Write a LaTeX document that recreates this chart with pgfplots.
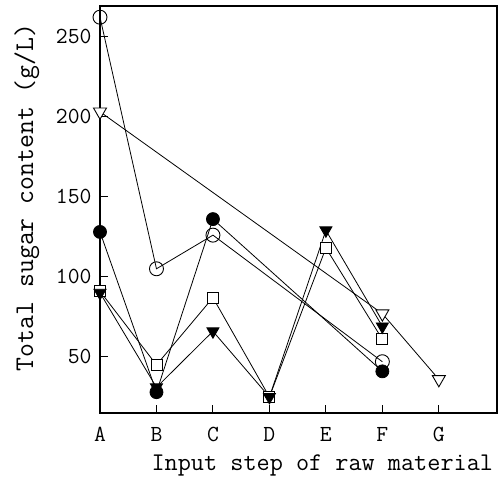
\documentclass[border=0pt]{standalone}
\usepackage{fontspec}
\usepackage{pgfplots}
\pgfplotsset{compat=1.18}
\newcommand{\tl}{\ttfamily\fontsize{23}{27}\selectfont}

\begin{document}
\begin{tikzpicture}
\begin{axis}[
    scale only axis,
    width=397pt, height=407pt,
    xmin=0, xmax=7.03,
    ymin=15, ymax=269,
    xtick={0,1,2,3,4,5,6},
    xticklabels={{\tl A},{\tl B},{\tl C},{\tl D},{\tl E},{\tl F},{\tl G}},
    ytick={50,100,150,200,250},
    yticklabel={\tl\pgfmathprintnumber{\tick}},
    xtick pos=bottom, ytick pos=left,
    tick align=inside,
    major tick length=8pt,
    axis line style={line width=1.1pt},
    tick style={line width=1pt, black},
    /pgf/number format/assume math mode=true,
    yticklabel style={xshift=-5pt},
    xticklabel style={yshift=-11pt},
    xlabel={Input step of raw material},
    ylabel={Total sugar content (g/L)},
    xlabel style={font=\ttfamily\fontsize{25.5}{30}\selectfont,
        at={(axis description cs:0.56,0)}, anchor=center, yshift=-52pt},
    ylabel style={font=\ttfamily\fontsize{27}{32}\selectfont,
        at={(axis description cs:-0.184,0.53)}, anchor=center},
    every axis plot/.append style={black, line width=0.8pt},
    clip=false,
]
% open circles
\addplot[mark=o, mark size=7pt, mark options={line width=0.9pt, fill=white}]
coordinates {(0,262) (1,105) (2,126) (5,47)};
% filled circles
\addplot[mark=*, mark size=6.5pt, mark options={fill=black}]
coordinates {(0,128) (1,28) (2,136) (5,41)};
% open squares
\addplot[mark=square*, mark size=5.5pt, mark options={line width=0.9pt, fill=white}]
coordinates {(0,91) (1,45) (2,87) (3,25) (4,118) (5,61)};
% filled inverted triangles
\addplot[mark=triangle*, mark size=7pt, mark options={rotate=180, fill=black}]
coordinates {(0,90) (1,31) (2,66) (3,25) (4,129) (5,69)};
% open inverted triangles
\addplot[mark=triangle*, mark size=7.5pt, mark options={rotate=180, fill=white, line width=0.9pt}]
coordinates {(0,203) (5,77) (6,36)};
\end{axis}
\path (-100pt,-71pt) rectangle (400pt,413pt);
\end{tikzpicture}
\end{document}
